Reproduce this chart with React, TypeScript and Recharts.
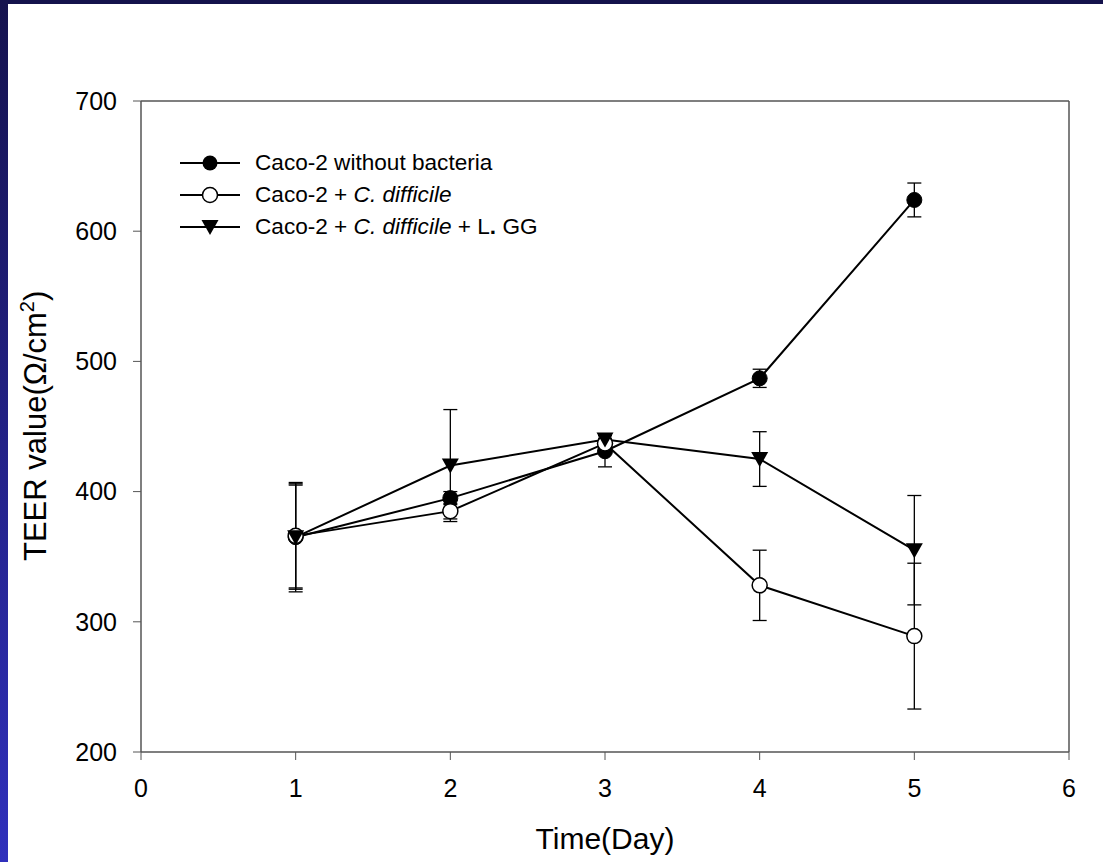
import { LineChart, Line, XAxis, YAxis, ErrorBar, ReferenceLine, Legend } from 'recharts'

const days = [1, 2, 3, 4, 5]
const noBacteria = [365, 395, 431, 487, 624]
const noBacteriaErr = [40, 5, 12, 7, 13]
const cDifficile = [366, 385, 437, 328, 289]
const cDifficileErr = [40, 6, 4, 27, 56]
const cDifficileLgg = [365, 420, 440, 425, 355]
const cDifficileLggErr = [42, 43, 3, 21, 42]

const xTicks = [0, 1, 2, 3, 4, 5, 6]
const yTicks = [200, 300, 400, 500, 600, 700]

const data = days.map((day, i) => ({
  day,
  s1: noBacteria[i],
  e1: noBacteriaErr[i],
  s2: cDifficile[i],
  e2: cDifficileErr[i],
  s3: cDifficileLgg[i],
  e3: cDifficileLggErr[i],
}))

const FONT = 'Liberation Sans, Arial, sans-serif'
const AXIS = '#555'

function filledDot(p: any) {
  return <circle key={`f-${p.index}`} cx={p.cx} cy={p.cy} r={7.5} fill="#000" stroke="#000" strokeWidth={1} />
}
function openDot(p: any) {
  return <circle key={`o-${p.index}`} cx={p.cx} cy={p.cy} r={7.5} fill="#fff" stroke="#000" strokeWidth={1.5} />
}
function triDot(p: any) {
  const { cx, cy } = p
  return (
    <path key={`t-${p.index}`} d={`M${cx - 8.5},${cy - 7} L${cx + 8.5},${cy - 7} L${cx},${cy + 8} Z`} fill="#000" />
  )
}

function Marker({ kind }: { kind: string }) {
  return (
    <svg width={60} height={32} style={{ display: 'block' }}>
      <line x1={0} y1={16} x2={60} y2={16} stroke="#000" strokeWidth={2} />
      {kind === 'filled' && <circle cx={30} cy={16} r={7.5} fill="#000" />}
      {kind === 'open' && <circle cx={30} cy={16} r={7.5} fill="#fff" stroke="#000" strokeWidth={1.5} />}
      {kind === 'tri' && <path d="M21.5,9 L38.5,9 L30,24 Z" fill="#000" />}
    </svg>
  )
}

function LegendBox() {
  const row = { display: 'flex', alignItems: 'center', height: 32 }
  const txt = { marginLeft: 15, fontSize: 22.6, fontFamily: FONT, color: '#000', whiteSpace: 'nowrap' as const }
  return (
    <div>
      <div style={row}><Marker kind="filled" /><span style={txt}>Caco-2 without bacteria</span></div>
      <div style={row}><Marker kind="open" /><span style={txt}>Caco-2 + <i>C. difficile</i></span></div>
      <div style={row}><Marker kind="tri" /><span style={txt}>Caco-2 + <i>C. difficile</i> + L<b>.</b> GG</span></div>
    </div>
  )
}

export default function App() {
  return (
    <div style={{ position: 'absolute', left: 0, top: 0, width: 1103, height: 862, background: '#fff', overflow: 'hidden' }}>
      <div style={{ position: 'absolute', left: 0, top: 0, width: 1103, height: 4, background: '#14124c' }} />
      <div style={{ position: 'absolute', left: 0, top: 0, width: 8, height: 862, background: 'linear-gradient(#15134e, #3030bc)' }} />
      <div style={{ position: 'absolute', left: 0, top: 0 }}>
        <LineChart width={1103} height={862} data={data} margin={{ top: 101, right: 34, left: 0, bottom: 0 }}>
          <XAxis
            dataKey="day"
            type="number"
            domain={[0, 6]}
            ticks={xTicks}
            height={110}
            tickSize={8}
            tickMargin={19}
            axisLine={{ stroke: AXIS, strokeWidth: 1.5 }}
            tickLine={{ stroke: AXIS }}
            tick={{ fill: '#000', fontSize: 25, fontFamily: FONT }}
            label={{
              content: () => (
                <text x={605} y={849} textAnchor="middle" fontSize={30} fontFamily={FONT} fill="#000">
                  Time(Day)
                </text>
              ),
            }}
          />
          <YAxis
            type="number"
            domain={[200, 700]}
            ticks={yTicks}
            width={141}
            tickSize={8}
            tickMargin={16}
            axisLine={{ stroke: AXIS, strokeWidth: 1.5 }}
            tickLine={{ stroke: AXIS }}
            tick={{ fill: '#000', fontSize: 25, fontFamily: FONT }}
            label={{
              content: () => (
                <text x={46} y={561} transform="rotate(-90, 46, 561)" textAnchor="start" fontSize={31} fontFamily={FONT} fill="#000">
                  TEER value(Ω/cm<tspan dy={-12} fontSize={20}>2</tspan><tspan dy={12}>)</tspan>
                </text>
              ),
            }}
          />
          <ReferenceLine y={700} stroke={AXIS} strokeWidth={1.5} />
          <ReferenceLine x={6} stroke={AXIS} strokeWidth={1.5} />
          <Legend
            layout="vertical"
            align="center"
            verticalAlign="middle"
            wrapperStyle={{ top: 147, left: 180, width: 420 }}
            content={() => <LegendBox />}
          />
          <Line dataKey="s1" stroke="#000" strokeWidth={2} dot={filledDot} isAnimationActive={false} legendType="none">
            <ErrorBar dataKey="e1" direction="y" width={7} stroke="#000" strokeWidth={1.3} />
          </Line>
          <Line dataKey="s2" stroke="#000" strokeWidth={2} dot={openDot} isAnimationActive={false} legendType="none">
            <ErrorBar dataKey="e2" direction="y" width={7} stroke="#000" strokeWidth={1.3} />
          </Line>
          <Line dataKey="s3" stroke="#000" strokeWidth={2} dot={triDot} isAnimationActive={false} legendType="none">
            <ErrorBar dataKey="e3" direction="y" width={7} stroke="#000" strokeWidth={1.3} />
          </Line>
        </LineChart>
      </div>
    </div>
  )
}
